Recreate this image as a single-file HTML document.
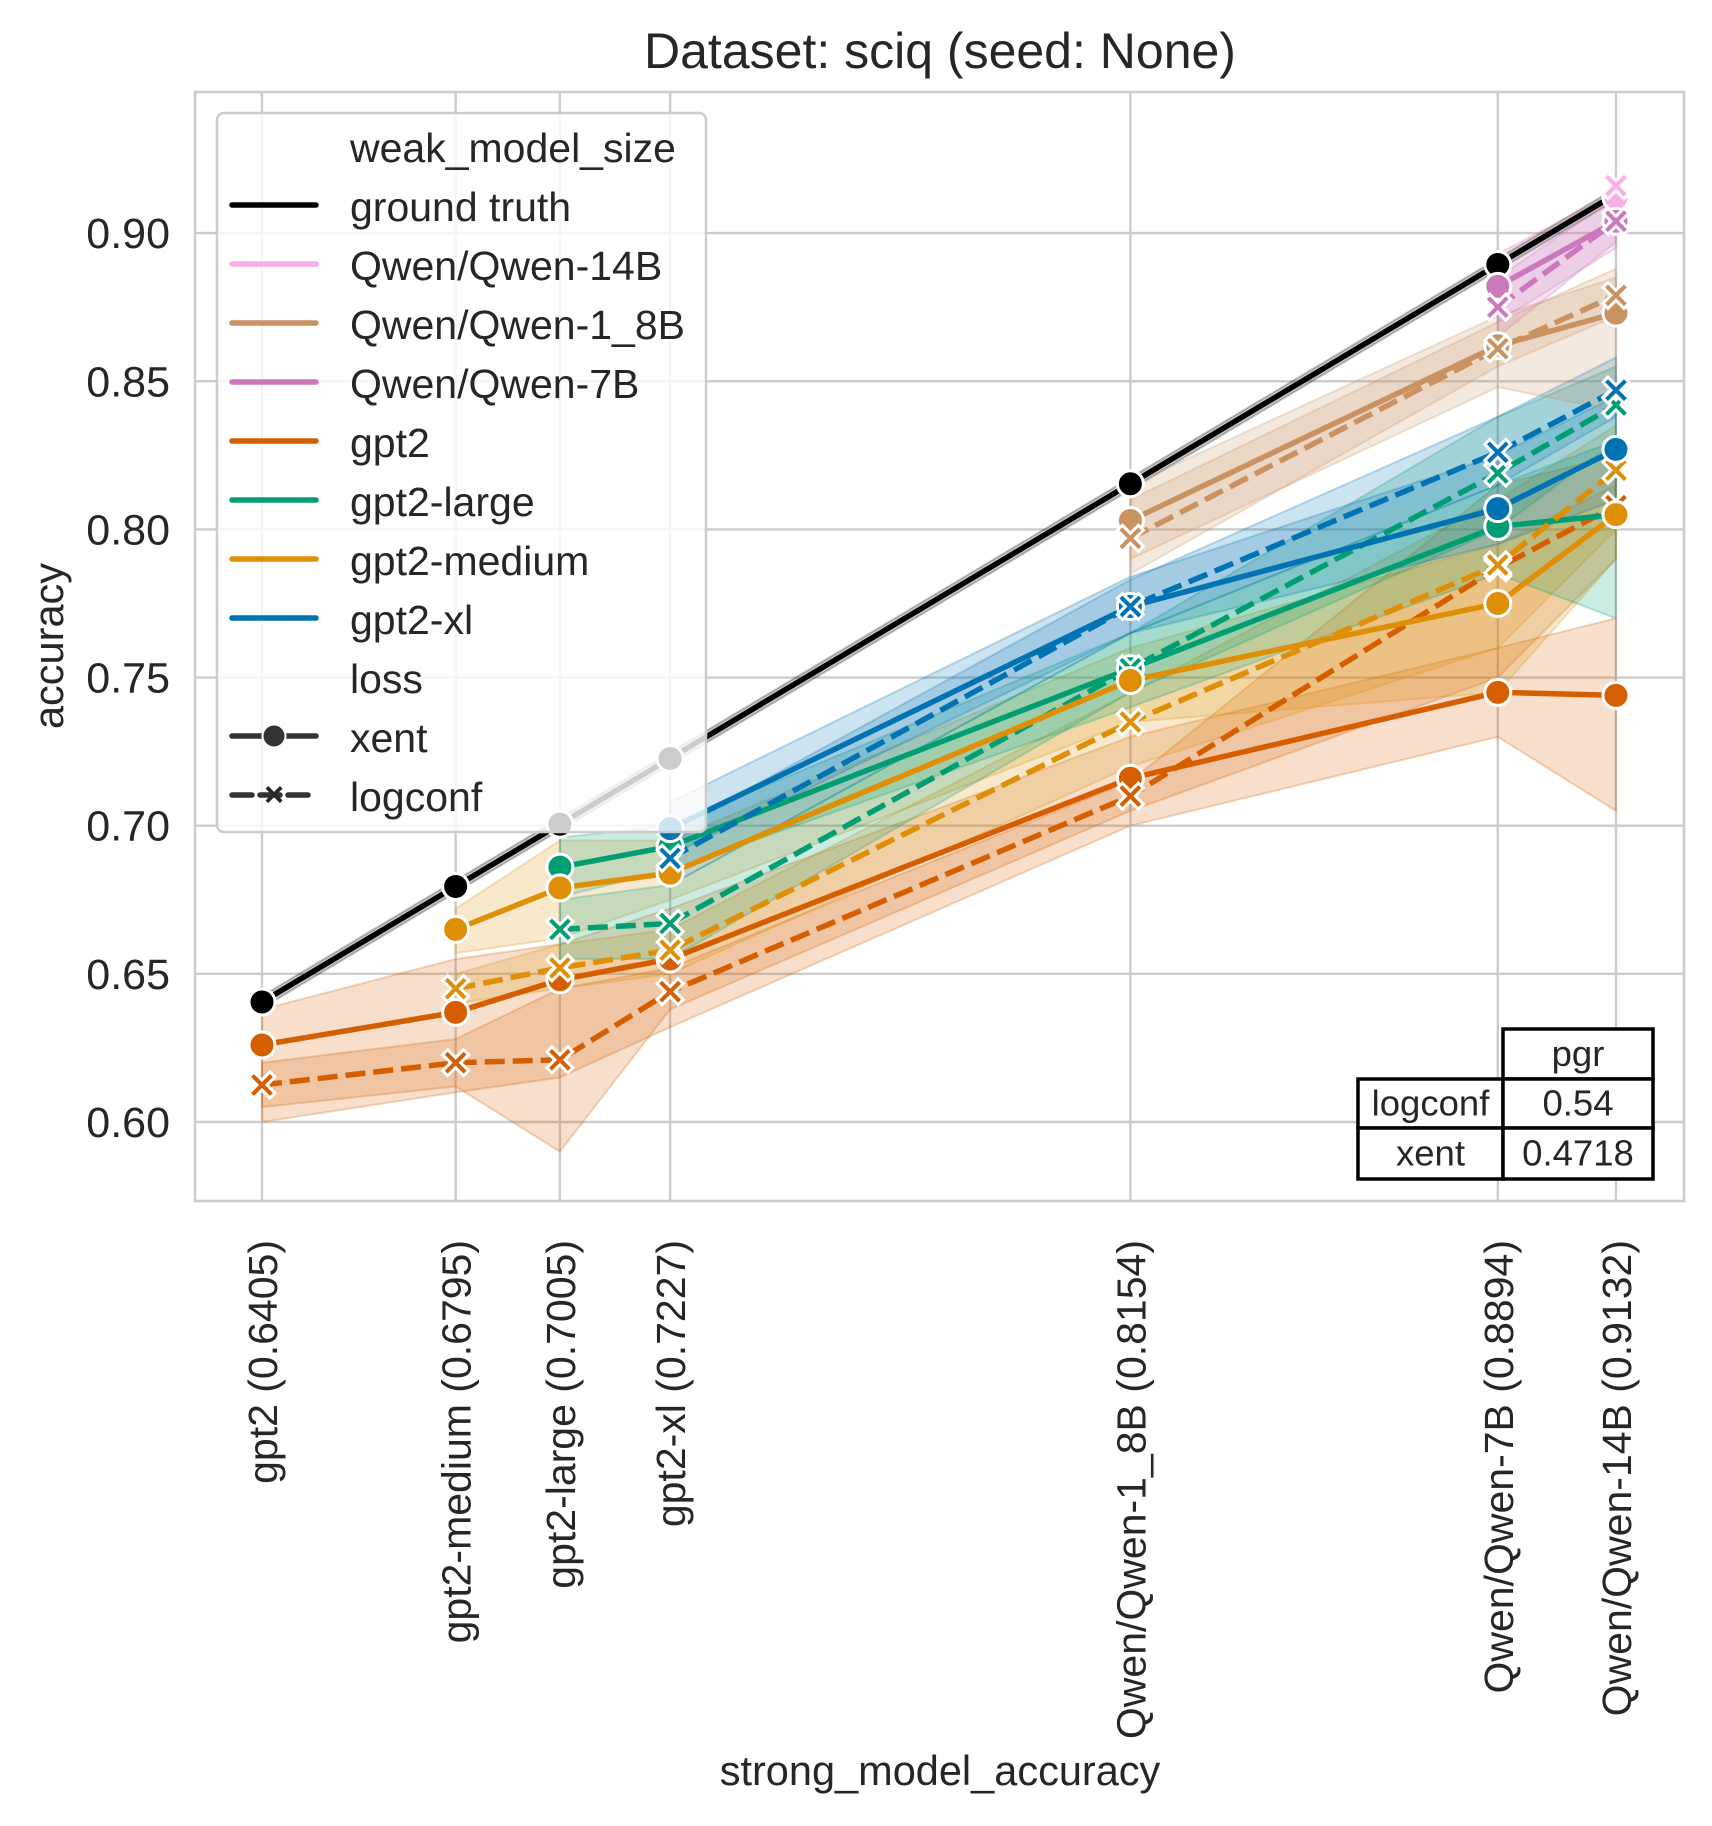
<!DOCTYPE html>
<html><head><meta charset="utf-8"><style>
html,body{margin:0;padding:0;background:#fff;}
svg text{font-family:"Liberation Sans",Arial,sans-serif;fill:#262626;}
</style></head><body>
<svg id="chart" width="1712" height="1821" viewBox="0 0 1712 1821" xmlns="http://www.w3.org/2000/svg">
<rect width="1712" height="1821" fill="#fff"/>
<g id="grid"></g>
<g id="bands"></g>
<g id="lines"></g>
<g id="marks"></g>
<g id="axes"></g>
<g id="legend"></g>
<g id="table"></g>
</svg>
<script>
const categories = ["gpt2","gpt2-medium","gpt2-large","gpt2-xl","Qwen/Qwen-1_8B","Qwen/Qwen-7B","Qwen/Qwen-14B"];
const strongAcc = [0.6405,0.6795,0.7005,0.7227,0.8154,0.8894,0.9132];
const yTicks = [0.60,0.65,0.70,0.75,0.80,0.85,0.90];
const yTickLabels = ["0.60","0.65","0.70","0.75","0.80","0.85","0.90"];
const gtValues = [0.6405,0.6795,0.7005,0.7227,0.8154,0.8894,0.9132];

const gpt2Xent = [0.626,0.637,0.648,0.655,0.716,0.745,0.744];
const gpt2XentLo = [0.600,0.610,0.615,0.632,0.700,0.730,0.705];
const gpt2XentHi = [0.638,0.655,0.660,0.672,0.730,0.760,0.770];
const gpt2Log = [0.6125,0.620,0.621,0.644,0.710,0.787,0.808];
const gpt2LogLo = [0.605,0.612,0.590,0.638,0.705,0.750,0.790];
const gpt2LogHi = [0.620,0.628,0.645,0.652,0.715,0.815,0.825];
const medXent = [null,0.665,0.679,0.684,0.749,0.775,0.805];
const medXentLo = [null,0.657,0.662,0.675,0.735,0.745,0.790];
const medXentHi = [null,0.672,0.695,0.695,0.760,0.795,0.815];
const medLog = [null,0.645,0.652,0.658,0.735,0.788,0.820];
const medLogLo = [null,0.640,0.645,0.650,0.720,0.760,0.800];
const medLogHi = [null,0.650,0.660,0.665,0.745,0.810,0.835];
const largeXent = [null,null,0.686,0.693,0.753,0.801,0.805];
const largeXentLo = [null,null,0.676,0.685,0.740,0.785,0.770];
const largeXentHi = [null,null,0.696,0.700,0.765,0.815,0.830];
const largeLog = [null,null,0.665,0.667,0.753,0.819,0.842];
const largeLogLo = [null,null,0.655,0.655,0.745,0.800,0.830];
const largeLogHi = [null,null,0.675,0.680,0.765,0.838,0.855];
const xlXent = [null,null,null,0.699,0.774,0.807,0.827];
const xlXentLo = [null,null,null,0.690,0.765,0.795,0.810];
const xlXentHi = [null,null,null,0.708,0.784,0.825,0.845];
const xlLog = [null,null,null,0.689,0.774,0.826,0.847];
const xlLogLo = [null,null,null,0.680,0.765,0.815,0.838];
const xlLogHi = [null,null,null,0.698,0.783,0.838,0.858];
const q18Xent = [null,null,null,null,0.803,0.862,0.873];
const q18XentLo = [null,null,null,null,0.790,0.848,0.840];
const q18XentHi = [null,null,null,null,0.815,0.872,0.885];
const q18Log = [null,null,null,null,0.797,0.861,0.879];
const q18LogLo = [null,null,null,null,0.785,0.855,0.872];
const q18LogHi = [null,null,null,null,0.810,0.870,0.888];
const q7Xent = [null,null,null,null,null,0.882,0.904];
const q7XentLo = [null,null,null,null,null,0.870,0.895];
const q7XentHi = [null,null,null,null,null,0.893,0.914];
const q7Log = [null,null,null,null,null,0.875,0.904];
const q7LogLo = [null,null,null,null,null,0.865,0.897];
const q7LogHi = [null,null,null,null,null,0.885,0.912];
const q14Xent = [null,null,null,null,null,null,0.912];
const q14Log = [null,null,null,null,null,null,0.916];
const pgrLogconf = "0.54";
const pgrXent = "0.4718";

const NS="http://www.w3.org/2000/svg";
const L=195,R=1684,T=92,B=1201;
function xs(v){return 262+(v-0.6405)*4965;}
function ys(v){return 1122-(v-0.6)*2963;}
function mk(tag,attrs,parent){const e=document.createElementNS(NS,tag);for(const k in attrs)e.setAttribute(k,attrs[k]);parent.appendChild(e);return e;}
const grid=document.getElementById('grid'),axes=document.getElementById('axes');
mk('rect',{x:L,y:T,width:R-L,height:B-T,fill:'#fff'},grid);
strongAcc.forEach((a,i)=>{
 const g=mk('line',{x1:xs(a),x2:xs(a),y1:T,y2:B,stroke:'#cccccc','stroke-width':2.4},grid);
 
 
 const t=mk('text',{x:0,y:0,transform:`translate(${xs(a)+15},1240) rotate(-90)`,'text-anchor':'end','font-size':41},axes);
 t.textContent=categories[i]+" ("+a.toFixed(4)+")";
 
 
});
yTicks.forEach((v,i)=>{
 const g=mk('line',{x1:L,x2:R,y1:ys(v),y2:ys(v),stroke:'#cccccc','stroke-width':2.4},grid);
 
 
 const t=mk('text',{x:170,y:ys(v)+15,'text-anchor':'end','font-size':43},axes);
 t.textContent=yTickLabels[i];
 
 
});
const frame=mk('rect',{x:L,y:T,width:R-L,height:B-T,fill:'none',stroke:'#cccccc','stroke-width':2.6},axes);


const title=mk('text',{x:940,y:68,'text-anchor':'middle','font-size':50},axes);
title.textContent="Dataset: sciq (seed: None)";


const xt=mk('text',{x:940,y:1785,'text-anchor':'middle','font-size':41.5},axes);
xt.textContent="strong_model_accuracy";


const yt=mk('text',{x:0,y:0,transform:'translate(63,646) rotate(-90)','text-anchor':'middle','font-size':41.5},axes);
yt.textContent="accuracy";



const bands=document.getElementById('bands'),lines=document.getElementById('lines'),marks=document.getElementById('marks');
function band(lo,hi,color,name){
 const idx=[];lo.forEach((v,i)=>{if(v!=null)idx.push(i);});
 let d="";idx.forEach((i,k)=>{d+=(k?'L':'M')+xs(strongAcc[i])+','+ys(hi[i]);});
 idx.slice().reverse().forEach(i=>{d+='L'+xs(strongAcc[i])+','+ys(lo[i]);});
 d+='Z';
 const p=mk('path',{d:d,fill:color,'fill-opacity':0.2,stroke:color,'stroke-opacity':0.25,'stroke-width':2},bands);
 
 
}
function line(vals,color,dashed,name,marker){
 const idx=[];vals.forEach((v,i)=>{if(v!=null)idx.push(i);});
 let d="";idx.forEach((i,k)=>{d+=(k?'L':'M')+xs(strongAcc[i])+','+ys(vals[i]);});
 if(idx.length>1){
  const p=mk('path',{d:d,fill:'none',stroke:color,'stroke-width':5.5,'stroke-dasharray':dashed?'20,8':'none','stroke-linejoin':'round'},lines);
  
  
 }
 idx.forEach(i=>{
  const cx=xs(strongAcc[i]),cy=ys(vals[i]);
  let m;
  if(marker==='o'){m=mk('circle',{cx:cx,cy:cy,r:13,fill:color,stroke:'#fff','stroke-width':3},marks);}
  else{
   const a=5,b=13;
   const d2=`M${cx},${cy-a}L${cx+b-a},${cy-b}L${cx+b},${cy-b+a}L${cx+a},${cy}L${cx+b},${cy+b-a}L${cx+b-a},${cy+b}L${cx},${cy+a}L${cx-b+a},${cy+b}L${cx-b},${cy+b-a}L${cx-a},${cy}L${cx-b},${cy-b+a}L${cx-b+a},${cy-b}Z`;
   m=mk('path',{d:d2,fill:color,stroke:'#fff','stroke-width':3,'stroke-linejoin':'miter'},marks);
  }
  
  
 });
}
const C={gt:'#000000',q14:'#fbafe4',q18:'#ca9161',q7:'#cc78bc',g2:'#d55e00',lg:'#029e73',md:'#de8f05',xl:'#0173b2'};
const gtLo=gtValues.map(v=>v-0.002),gtHi=gtValues.map(v=>v+0.002);
band(gtLo,gtHi,'#000','ground-truth');
band(gpt2XentLo,gpt2XentHi,C.g2,'gpt2-xent');band(gpt2LogLo,gpt2LogHi,C.g2,'gpt2-logconf');
band(medXentLo,medXentHi,C.md,'gpt2-medium-xent');band(medLogLo,medLogHi,C.md,'gpt2-medium-logconf');
band(largeXentLo,largeXentHi,C.lg,'gpt2-large-xent');band(largeLogLo,largeLogHi,C.lg,'gpt2-large-logconf');
band(xlXentLo,xlXentHi,C.xl,'gpt2-xl-xent');band(xlLogLo,xlLogHi,C.xl,'gpt2-xl-logconf');
band(q18XentLo,q18XentHi,C.q18,'qwen-1-8b-xent');band(q18LogLo,q18LogHi,C.q18,'qwen-1-8b-logconf');
band(q7XentLo,q7XentHi,C.q7,'qwen-7b-xent');band(q7LogLo,q7LogHi,C.q7,'qwen-7b-logconf');
line(gtValues,C.gt,false,'ground-truth','o');
line(q14Xent,C.q14,false,'qwen-14b-xent','o');line(q14Log,C.q14,true,'qwen-14b-logconf','x');
line(q18Xent,C.q18,false,'qwen-1-8b-xent','o');line(q18Log,C.q18,true,'qwen-1-8b-logconf','x');
line(q7Xent,C.q7,false,'qwen-7b-xent','o');line(q7Log,C.q7,true,'qwen-7b-logconf','x');
line(gpt2Xent,C.g2,false,'gpt2-xent','o');line(gpt2Log,C.g2,true,'gpt2-logconf','x');
line(largeXent,C.lg,false,'gpt2-large-xent','o');line(largeLog,C.lg,true,'gpt2-large-logconf','x');
line(medXent,C.md,false,'gpt2-medium-xent','o');line(medLog,C.md,true,'gpt2-medium-logconf','x');
line(xlXent,C.xl,false,'gpt2-xl-xent','o');line(xlLog,C.xl,true,'gpt2-xl-logconf','x');

// legend
const lg=document.getElementById('legend');
const lb=mk('rect',{x:217,y:113,width:489,height:719,rx:7,fill:'#fff','fill-opacity':0.8,stroke:'#cccccc','stroke-width':2.5},lg);


const entries=[["weak_model_size",null,null],["ground truth",C.gt,null],["Qwen/Qwen-14B",C.q14,null],["Qwen/Qwen-1_8B",C.q18,null],["Qwen/Qwen-7B",C.q7,null],["gpt2",C.g2,null],["gpt2-large",C.lg,null],["gpt2-medium",C.md,null],["gpt2-xl",C.xl,null],["loss",null,null],["xent",'#333','o'],["logconf",'#333','x']];
entries.forEach((e,i)=>{
 const y=148+i*59.0;
 if(e[1]){
  const l=mk('line',{x1:232,x2:316,y1:y-2,y2:y-2,stroke:e[1],'stroke-width':5.5,'stroke-linecap':'round','stroke-dasharray':e[2]==='x'?'20,8':'none'},lg);
  
  
  if(e[2]==='o'){const c=mk('circle',{cx:274,cy:y-2,r:11.5,fill:'#333',stroke:'#fff','stroke-width':2},lg);}
  if(e[2]==='x'){const t=mk('text',{x:274,y:y+9,'text-anchor':'middle','font-size':34,'font-weight':'bold'},lg);t.textContent="×";}
 }
 const t=mk('text',{x:350,y:y+14,'font-size':41},lg);
 t.textContent=e[0];
 
 
});

// table
const tb=document.getElementById('table');
function cell(x,y,w,h,txt,name){
 const r=mk('rect',{x:x,y:y,width:w,height:h,fill:'#fff',stroke:'#000','stroke-width':3.5},tb);
 
 
 const t=mk('text',{x:x+w/2,y:y+h/2+12,'text-anchor':'middle','font-size':36.5},tb);
 t.textContent=txt;
 
 
}
cell(1503,1029,150,50,"pgr",'table-header');
cell(1358,1079,145,49,"logconf",'table-row-label');
cell(1503,1079,150,49,pgrLogconf,'table-value');
cell(1358,1128,145,51,"xent",'table-row-label');
cell(1503,1128,150,51,pgrXent,'table-value');
</script>
</body></html>
